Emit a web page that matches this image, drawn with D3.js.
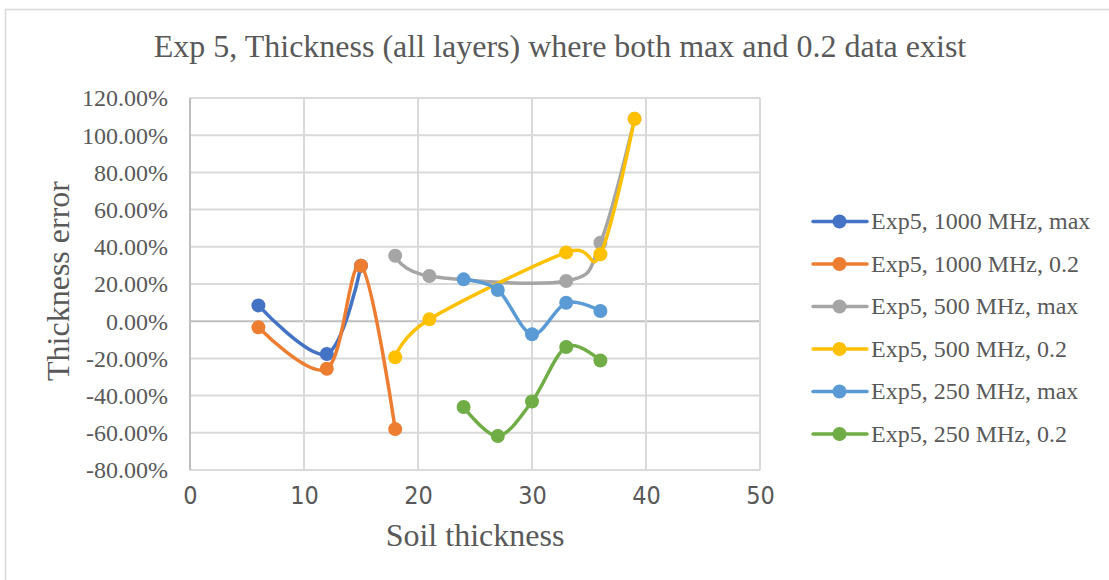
<!DOCTYPE html>
<html>
<head>
<meta charset="utf-8">
<script src="https://cdn.jsdelivr.net/npm/d3@7"></script>
<style>
  html, body { margin: 0; padding: 0; background: #fff; }
  svg { display: block; }
</style>
</head>
<body>
<svg id="chart" width="1109" height="580"></svg>
<script>
// Series names, in legend order
const seriesNames = [
  "Exp5, 1000 MHz, max",
  "Exp5, 1000 MHz, 0.2",
  "Exp5, 500 MHz, max",
  "Exp5, 500 MHz, 0.2",
  "Exp5, 250 MHz, max",
  "Exp5, 250 MHz, 0.2"
];
// Soil thickness (x) for each series
const xs1000max = [6, 12, 15];
const xs1000p2  = [6, 12, 15, 18];
const xs500max  = [18, 21, 33, 36, 39];
const xs500p2   = [18, 21, 33, 36, 39];
const xs250max  = [24, 27, 30, 33, 36];
const xs250p2   = [24, 27, 30, 33, 36];
// Thickness error (fraction) for each series
const ys1000max = [0.085, -0.176, 0.298];
const ys1000p2  = [-0.033, -0.256, 0.298, -0.580];
const ys500max  = [0.352, 0.243, 0.216, 0.422, 1.088];
const ys500p2   = [-0.194, 0.010, 0.370, 0.360, 1.088];
const ys250max  = [0.225, 0.168, -0.070, 0.099, 0.055];
const ys250p2   = [-0.461, -0.617, -0.432, -0.139, -0.211];

const seriesColors = ["#4472C4", "#ED7D31", "#A5A5A5", "#FFC000", "#5B9BD5", "#70AD47"];

// Axis ticks
const xTicks = [0, 10, 20, 30, 40, 50];
const yTicks = [-0.8, -0.6, -0.4, -0.2, 0, 0.2, 0.4, 0.6, 0.8, 1.0, 1.2];
const yTickLabels = ["-80.00%", "-60.00%", "-40.00%", "-20.00%", "0.00%", "20.00%",
                     "40.00%", "60.00%", "80.00%", "100.00%", "120.00%"];

const titleText = "Exp 5, Thickness (all layers) where both max and 0.2 data exist";
const xTitle = "Soil thickness";
const yTitle = "Thickness error";

const xsAll = [xs1000max, xs1000p2, xs500max, xs500p2, xs250max, xs250p2];
const ysAll = [ys1000max, ys1000p2, ys500max, ys500p2, ys250max, ys250p2];
const series = seriesNames.map((name, i) => ({
  name,
  color: seriesColors[i],
  points: xsAll[i].map((x, j) => ({ x, y: ysAll[i][j] }))
}));

const svg = d3.select("#chart");
const textColor = "#595959";
const serif = "'Liberation Serif', 'Times New Roman', serif";

// Chart frame
svg.append("rect")
  .attr("x", 5.5).attr("y", 9.5)
  .attr("width", 1120).attr("height", 600)
  .attr("fill", "#fff").attr("stroke", "#d9d9d9").attr("stroke-width", 1.5);

const plot = { left: 190, right: 760, top: 98, bottom: 470 };

const x = d3.scaleLinear().domain([0, 50]).range([plot.left, plot.right]);
const y = d3.scaleLinear().domain([-0.8, 1.2]).range([plot.bottom, plot.top]);

// Gridlines
const grid = svg.append("g");
grid.selectAll(".hg").data(yTicks).join("line")
  .attr("x1", plot.left).attr("x2", plot.right)
  .attr("y1", d => y(d)).attr("y2", d => y(d))
  .attr("stroke", d => d === 0 ? "#bfbfbf" : "#d9d9d9")
  .attr("stroke-width", 2);
grid.selectAll(".vg").data(xTicks).join("line")
  .attr("x1", d => x(d)).attr("x2", d => x(d))
  .attr("y1", plot.top).attr("y2", plot.bottom)
  .attr("stroke", d => d === 0 ? "#bfbfbf" : "#d9d9d9")
  .attr("stroke-width", 2);

// Y axis labels
const yAxis = d3.axisLeft(y).tickValues(yTicks)
  .tickFormat((d, i) => yTickLabels[i]).tickSize(0).tickPadding(22);
const gy = svg.append("g").attr("transform", `translate(${plot.left},0)`).call(yAxis);
gy.select(".domain").remove();
gy.selectAll("text")
  .attr("font-family", serif).attr("font-size", 24).attr("fill", textColor)
  .attr("dy", "0.33em");

// X axis labels
const xAxis = d3.axisBottom(x).tickValues(xTicks).tickSize(0).tickPadding(16);
const gx = svg.append("g").attr("transform", `translate(0,${plot.bottom})`).call(xAxis);
gx.select(".domain").remove();
gx.selectAll("text")
  .attr("font-family", "'Liberation Sans Narrow', 'Arial Narrow', 'DejaVu Sans Condensed', sans-serif")
  .attr("font-size", 25).attr("fill", textColor);

// Titles
svg.append("text")
  .attr("x", 560).attr("y", 57).attr("text-anchor", "middle")
  .attr("font-family", serif).attr("font-size", 32).attr("fill", textColor)
  .text(titleText);
svg.append("text")
  .attr("x", x(25)).attr("y", 546).attr("text-anchor", "middle")
  .attr("font-family", serif).attr("font-size", 32).attr("fill", textColor)
  .text(xTitle);
svg.append("text")
  .attr("transform", `translate(69,${(plot.top + plot.bottom) / 2 - 3}) rotate(-90)`)
  .attr("text-anchor", "middle")
  .attr("font-family", serif).attr("font-size", 32).attr("fill", textColor)
  .text(yTitle);

// Smoothed series lines and markers
const line = d3.line().x(d => x(d.x)).y(d => y(d.y)).curve(d3.curveCatmullRom.alpha(0));
const gs = svg.append("g");
series.forEach(s => {
  const g = gs.append("g");
  g.append("path").datum(s.points)
    .attr("d", line).attr("fill", "none")
    .attr("stroke", s.color).attr("stroke-width", 3.5)
    .attr("stroke-linecap", "round").attr("stroke-linejoin", "round");
  g.selectAll("circle").data(s.points).join("circle")
    .attr("cx", d => x(d.x)).attr("cy", d => y(d.y)).attr("r", 7)
    .attr("fill", s.color);
});

// Legend
const legend = svg.append("g");
const legY0 = 221.5, legStep = 42.5;
series.forEach((s, i) => {
  const gy0 = legY0 + i * legStep;
  const g = legend.append("g").attr("transform", `translate(0,${gy0})`);
  g.append("line").attr("x1", 813).attr("x2", 867).attr("y1", 0).attr("y2", 0)
    .attr("stroke", s.color).attr("stroke-width", 3.5).attr("stroke-linecap", "round");
  g.append("circle").attr("cx", 839.5).attr("cy", 0).attr("r", 7).attr("fill", s.color);
  g.append("text").attr("x", 871).attr("y", 0).attr("dy", "0.33em")
    .attr("font-family", serif).attr("font-size", 24).attr("fill", textColor)
    .text(s.name);
});
</script>
</body>
</html>
